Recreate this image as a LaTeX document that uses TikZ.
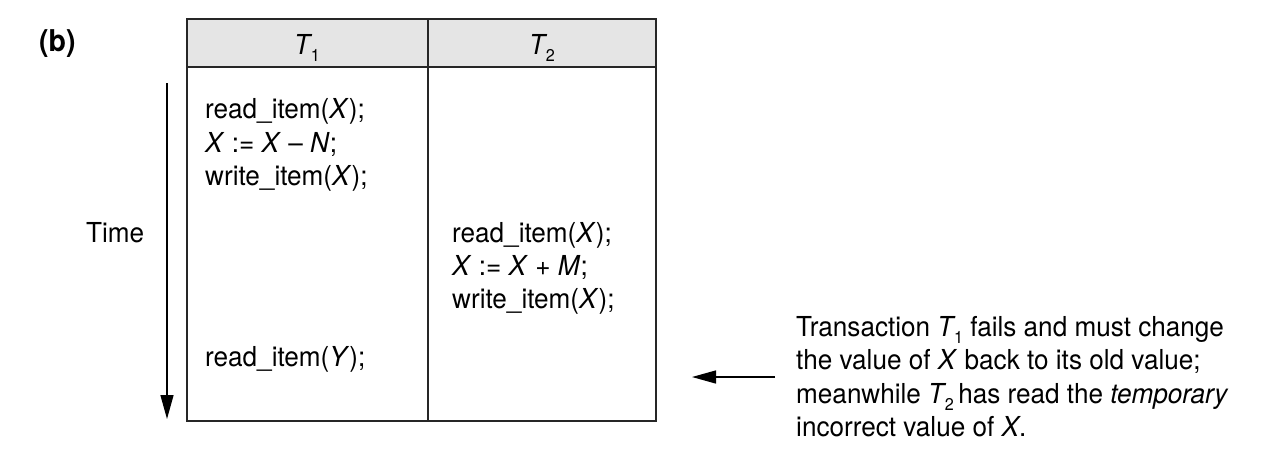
\documentclass[tikz,border=0pt]{standalone}
\usepackage{fontspec}
\setmainfont[FakeStretch=0.95]{TeX Gyre Heros}
\usetikzlibrary{arrows.meta}
% lowered, tucked-in subscript for italic transaction names
\newcommand{\sub}[1]{\kern-0.06em\raisebox{-0.28em}{\fontsize{17}{17}\selectfont #1}}
\begin{document}
\begin{tikzpicture}[x=1pt,y=-1pt,
  txt/.style={anchor=base west,inner sep=0pt,font=\fontsize{27.5}{33}\selectfont},
  hdr/.style={anchor=base,inner sep=0pt,font=\fontsize{27.5}{33}\selectfont},
  frame/.style={line width=1.6pt,black!85},
  arr/.style={line width=1.4pt,-{Triangle[length=24pt,width=13pt]}}]
\useasboundingbox (0,0) rectangle (1288,448);
% table header and body
\fill[black!10] (187,19) rectangle (656,67);
\draw[frame] (187,19) rectangle (656,421);
\draw[frame] (187,67) -- (656,67);
\draw[frame] (428,19) -- (428,421);
\node[font=\fontsize{30}{33}\selectfont\bfseries,anchor=base west,inner sep=0pt] (lbl) at (39,51) {(b)};
\node[hdr] (h1) at (307,54) {\textit{T}\sub{1}};
\node[hdr] (h2) at (542,54) {\textit{T}\sub{2}};
% T1 column
\node[txt] (a1) at (205,118) {read\_item(\textit{X});};
\node[txt] (a2) at (205,152) {\textit{X} := \textit{X} – \textit{N};};
\node[txt] (a3) at (205,185) {write\_item(\textit{X});};
\node[txt] (a4) at (205,366) {read\_item(\textit{Y});};
% T2 column
\node[txt] (b1) at (452,242) {read\_item(\textit{X});};
\node[txt] (b2) at (452,275) {\textit{X} := \textit{X} + \textit{M};};
\node[txt] (b3) at (452,308) {write\_item(\textit{X});};
% time axis
\coordinate (ts) at (167,83);
\coordinate (te) at (167,419);
\draw[arr] (ts) -- (te);
\node[txt] (time) at (86,242) {Time};
% note
\node[txt] (n1) at (796,336) {Transaction \textit{T}\sub{1} fails and must change};
\node[txt] (n2) at (796,369) {the value of \textit{X} back to its old value;};
\node[txt] (n3) at (796,403) {meanwhile \textit{T}\sub{2}\,has read the \textit{temporary}};
\node[txt] (n4) at (796,436) {incorrect value of \textit{X}.};
\coordinate (ns) at (775,377);
\coordinate (ne) at (692,377);
\draw[arr] (ns) -- (ne);
\end{tikzpicture}
\end{document}
